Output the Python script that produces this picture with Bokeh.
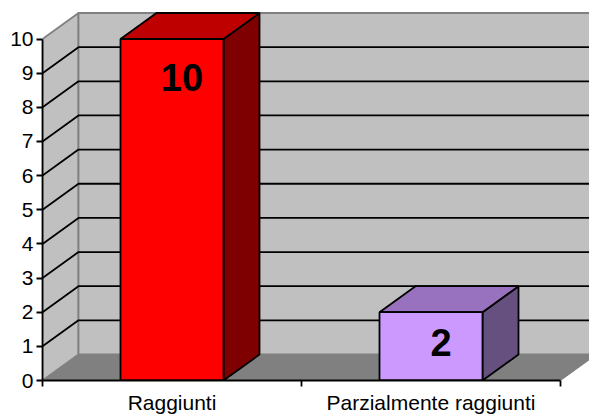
from bokeh.plotting import figure
from bokeh.models import Range1d, LinearAxis, FixedTicker
from bokeh.core.properties import value
from bokeh.embed import file_html
from bokeh.resources import INLINE

categories = ["Raggiunti", "Parzialmente raggiunti"]
values = [10, 2]
tick_values = list(range(0, 11))
front_colors = ["#FF0000", "#CC99FF"]
top_colors = ["#BF0000", "#9972BF"]
side_colors = ["#7F0000", "#66507F"]

FONT = "Liberation Sans"
WIDTH, HEIGHT = 589, 416
LEFT, BOTTOM = 42, 36
PX_X, PX_Y = 259.0, 34.15          # pixels per category / per unit
DX, DY = 36 / PX_X, 26 / PX_Y      # depth of the 3D box in data units
BAR = 103 / PX_X
LABEL_DX = 10
LABEL_DROP = [38, 30]
LW = 1.8

p = figure(width=WIDTH, height=HEIGHT, output_backend="svg", toolbar_location=None,
           x_axis_type=None, y_axis_type=None,
           x_range=Range1d(0, (WIDTH - LEFT) / PX_X),
           y_range=Range1d(0, (HEIGHT - BOTTOM) / PX_Y),
           min_border_left=LEFT, min_border_right=0, min_border_top=0, min_border_bottom=BOTTOM)
p.grid.visible = False
p.outline_line_color = None
p.background_fill_color = None

n = len(categories)
ymax = max(tick_values)
GRAY = "#808080"
WALL = "#C0C0C0"

# walls and floor
p.patch([0, DX, DX, 0], [0, DY, ymax + DY, ymax], fill_color=WALL, line_color=GRAY, line_width=LW)
p.patch([DX, n + DX, n + DX, DX], [DY, DY, ymax + DY, ymax + DY], fill_color=WALL, line_color=GRAY, line_width=LW)
p.patch([0, n, n + DX, DX], [0, 0, DY, DY], fill_color=GRAY, line_color=GRAY, line_width=1)

# grid lines
for t in tick_values[1:-1]:
    p.line([0, DX, n + DX], [t, t + DY, t + DY], line_color="black", line_width=LW)

# bars
for i, v in enumerate(values):
    x0 = i + 0.5 - BAR / 2
    x1 = i + 0.5 + BAR / 2
    p.patch([x1, x1 + DX, x1 + DX, x1], [0, DY, v + DY, v], fill_color=side_colors[i], line_color="black", line_width=LW)
    p.patch([x0, x1, x1 + DX, x0 + DX], [v, v, v + DY, v + DY], fill_color=top_colors[i], line_color="black", line_width=LW)
    p.patch([x0, x1, x1, x0], [0, 0, v, v], fill_color=front_colors[i], line_color="black", line_width=LW)
    p.text([i + 0.5], [v], text=[str(v)], x_offset=LABEL_DX, y_offset=LABEL_DROP[i],
           text_font=value(FONT), text_font_style="bold", text_font_size="38px",
           text_align="center", text_baseline="middle", text_color="black")

# axes
yax = LinearAxis(ticker=FixedTicker(ticks=tick_values), bounds=(0, ymax))
yax.axis_line_color = "black"
yax.axis_line_width = LW
yax.major_tick_line_color = "black"
yax.major_tick_line_width = LW
yax.major_tick_in = 0
yax.major_tick_out = 6
yax.minor_tick_line_color = None
yax.major_label_standoff = 3
yax.major_label_text_font = FONT
yax.major_label_text_font_size = "21px"
yax.major_label_text_color = "black"
p.add_layout(yax, "left")

xax = LinearAxis(ticker=FixedTicker(ticks=[i + 0.5 for i in range(n)], minor_ticks=list(range(n + 1))),
                 bounds=(0, n))
xax.major_label_overrides = {i + 0.5: c for i, c in enumerate(categories)}
xax.axis_line_color = "black"
xax.axis_line_width = LW
xax.major_tick_line_color = None
xax.minor_tick_line_color = "black"
xax.minor_tick_line_width = LW
xax.minor_tick_in = 0
xax.minor_tick_out = 6
xax.major_label_standoff = 4
xax.major_label_text_font = FONT
xax.major_label_text_font_size = "21px"
xax.major_label_text_color = "black"
p.add_layout(xax, "below")

open("out.html", "w").write(file_html(p, INLINE))
